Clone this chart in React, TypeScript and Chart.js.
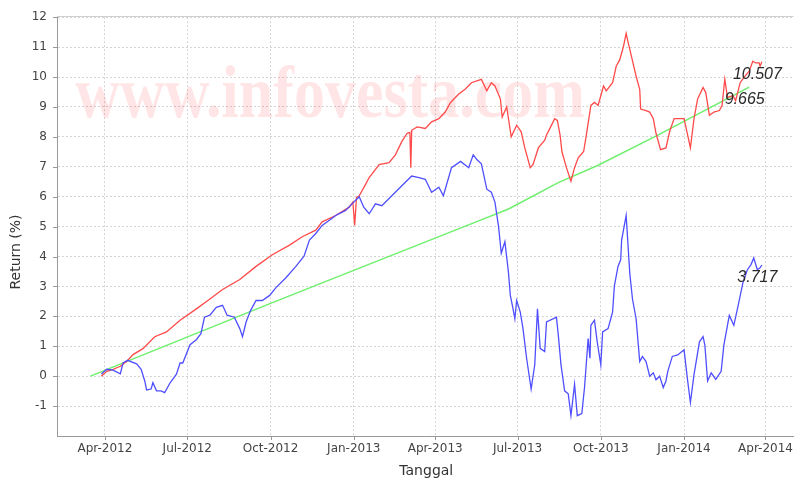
import React, { useEffect, useRef } from "react";
import { Chart, registerables } from "chart.js";

Chart.register(...registerables);

// ---------- data ----------
const redDates = [
  "2012-03-28","2012-04-03","2012-04-10","2012-04-18","2012-04-25","2012-05-02","2012-05-13","2012-05-26","2012-06-08","2012-06-23",
  "2012-07-11","2012-07-26","2012-08-09","2012-08-28","2012-09-15","2012-10-03","2012-10-22","2012-11-05","2012-11-20","2012-11-27",
  "2012-12-12","2012-12-27","2012-12-31","2013-01-02","2013-01-04","2013-01-07","2013-01-14","2013-01-18","2013-01-29","2013-02-09",
  "2013-02-16","2013-02-23","2013-03-01","2013-03-04","2013-03-05","2013-03-06","2013-03-12","2013-03-21","2013-03-28","2013-04-05",
  "2013-04-12","2013-04-18","2013-04-27","2013-05-04","2013-05-11","2013-05-22","2013-05-28","2013-06-02","2013-06-06","2013-06-12",
  "2013-06-14","2013-06-19","2013-06-24","2013-06-30","2013-07-05","2013-07-09","2013-07-15","2013-07-18","2013-07-24","2013-07-31",
  "2013-08-02","2013-08-06","2013-08-11","2013-08-14","2013-08-17","2013-08-19","2013-08-24","2013-08-29","2013-09-02","2013-09-06",
  "2013-09-12","2013-09-15","2013-09-20","2013-09-24","2013-09-28","2013-10-04","2013-10-07","2013-10-14","2013-10-18","2013-10-22",
  "2013-10-26","2013-10-29","2013-10-31","2013-11-03","2013-11-09","2013-11-13","2013-11-14","2013-11-20","2013-11-24","2013-11-28",
  "2013-12-01","2013-12-06","2013-12-12","2013-12-16","2013-12-21","2014-01-01","2014-01-05","2014-01-08","2014-01-12","2014-01-16",
  "2014-01-22","2014-01-25","2014-01-29","2014-02-03","2014-02-09","2014-02-12","2014-02-15","2014-02-18","2014-02-24","2014-02-27",
  "2014-03-04","2014-03-08","2014-03-14","2014-03-18","2014-03-21","2014-03-25","2014-03-26","2014-03-28",
];
const redValues = [
  0.0, 0.16, 0.23, 0.33, 0.49, 0.72, 0.92, 1.32, 1.48, 1.87,
  2.25, 2.58, 2.90, 3.23, 3.67, 4.06, 4.38, 4.66, 4.88, 5.16,
  5.37, 5.65, 5.82, 5.04, 5.98, 6.03, 6.41, 6.64, 7.07, 7.14,
  7.40, 7.84, 8.12, 8.15, 6.97, 8.22, 8.33, 8.28, 8.50, 8.61,
  8.83, 9.15, 9.43, 9.59, 9.81, 9.92, 9.54, 9.81, 9.70, 9.27,
  8.66, 9.0, 8.0, 8.39, 8.17, 7.63, 6.97, 7.07, 7.63, 7.89,
  8.06, 8.3, 8.61, 8.55, 8.06, 7.51, 6.97, 6.52, 6.97, 7.30,
  7.51, 8.06, 9.05, 9.15, 9.05, 9.70, 9.54, 9.81, 10.36, 10.58,
  11.02, 11.46, 11.18, 10.80, 10.03, 9.59, 8.93, 8.88, 8.83, 8.61,
  8.12, 7.57, 7.63, 8.17, 8.61, 8.61, 8.06, 7.63, 8.61, 9.27,
  9.65, 9.48, 8.72, 8.83, 8.88, 9.05, 9.93, 9.32, 9.38, 9.21,
  9.81, 9.98, 10.20, 10.53, 10.47, 10.47, 10.36, 10.507,
];

const blueDates = [
  "2012-03-28","2012-04-03","2012-04-10","2012-04-18","2012-04-21","2012-04-26","2012-05-06","2012-05-11","2012-05-15","2012-05-17",
  "2012-05-22","2012-05-24","2012-05-28","2012-06-02","2012-06-06","2012-06-12","2012-06-19","2012-06-23","2012-06-26","2012-07-04",
  "2012-07-11","2012-07-16","2012-07-20","2012-07-26","2012-08-02","2012-08-09","2012-08-14","2012-08-22","2012-08-28","2012-08-31",
  "2012-09-04","2012-09-09","2012-09-15","2012-09-22","2012-09-30","2012-10-07","2012-10-18","2012-10-29","2012-11-07","2012-11-13",
  "2012-11-20","2012-11-27","2012-12-05","2012-12-12","2012-12-23","2012-12-30","2013-01-07","2013-01-12","2013-01-18","2013-01-25",
  "2013-02-01","2013-02-12","2013-02-27","2013-03-06","2013-03-14","2013-03-21","2013-03-28","2013-04-05","2013-04-10","2013-04-19",
  "2013-04-29","2013-05-08","2013-05-13","2013-05-17","2013-05-22","2013-05-28","2013-06-02","2013-06-06","2013-06-10","2013-06-13",
  "2013-06-17","2013-06-21","2013-06-23","2013-06-26","2013-06-28","2013-06-30","2013-07-04","2013-07-07","2013-07-11","2013-07-16",
  "2013-07-20","2013-07-23","2013-07-26","2013-07-31","2013-08-02","2013-08-13","2013-08-15","2013-08-18","2013-08-22","2013-08-26",
  "2013-08-29","2013-09-02","2013-09-05","2013-09-10","2013-09-13","2013-09-17","2013-09-19","2013-09-20","2013-09-24","2013-09-27",
  "2013-10-01","2013-10-03","2013-10-09","2013-10-14","2013-10-16","2013-10-20","2013-10-23","2013-10-24","2013-10-29","2013-11-02",
  "2013-11-05","2013-11-09","2013-11-13","2013-11-16","2013-11-20","2013-11-24","2013-11-28","2013-12-01","2013-12-05","2013-12-09",
  "2013-12-12","2013-12-14","2013-12-19","2013-12-25","2014-01-01","2014-01-05","2014-01-08","2014-01-12","2014-01-18","2014-01-22",
  "2014-01-24","2014-01-27","2014-01-31","2014-02-05","2014-02-11","2014-02-14","2014-02-20","2014-02-25","2014-03-01","2014-03-07",
  "2014-03-12","2014-03-16","2014-03-19","2014-03-23","2014-03-26","2014-03-28",
];
const blueValues = [
  0.07, 0.23, 0.20, 0.08, 0.44, 0.53, 0.41, 0.23, -0.16, -0.46,
  -0.43, -0.22, -0.49, -0.49, -0.55, -0.22, 0.07, 0.44, 0.44, 1.05,
  1.22, 1.42, 1.97, 2.04, 2.30, 2.37, 2.04, 1.97, 1.59, 1.32,
  1.81, 2.20, 2.53, 2.53, 2.70, 2.96, 3.29, 3.67, 4.01, 4.55,
  4.77, 5.04, 5.21, 5.37, 5.54, 5.76, 6.0, 5.65, 5.43, 5.76,
  5.70, 6.03, 6.48, 6.69, 6.64, 6.58, 6.15, 6.32, 6.03, 6.97,
  7.18, 6.97, 7.40, 7.24, 7.1, 6.25, 6.15, 5.82, 5.0, 4.11,
  4.50, 3.45, 2.70, 2.25, 1.92, 2.53, 2.14, 1.59, 0.60, -0.43,
  0.38, 2.25, 0.93, 0.82, 1.81, 1.97, 1.38, 0.38, -0.49, -0.59,
  -1.32, -0.27, -1.32, -1.25, -0.38, 1.26, 0.60, 1.70, 1.87, 1.15,
  0.38, 1.48, 1.59, 2.14, 3.02, 3.67, 3.89, 4.55, 5.37, 3.45,
  2.58, 1.92, 0.49, 0.66, 0.49, 0.0, 0.11, -0.12, 0.0, -0.38,
  -0.16, 0.16, 0.66, 0.71, 0.88, -0.16, -0.88, 0.05, 1.15, 1.32,
  1.04, -0.16, 0.11, -0.11, 0.16, 1.04, 2.03, 1.70, 2.25, 3.12,
  3.56, 3.73, 3.95, 3.56, 3.62, 3.717,
];

const greenDates = [
  "2012-03-16","2012-09-29","2012-11-27","2013-05-19","2013-06-21","2013-08-15","2013-09-28","2013-12-03","2014-03-14",
];
const greenValues = [0.0, 2.41, 3.12, 5.19, 5.59, 6.47, 7.05, 8.06, 9.665];

const tickDates = [
  "2012-04-01","2012-07-01","2012-10-01","2013-01-01","2013-04-01","2013-07-01","2013-10-01","2014-01-01","2014-04-01",
];
const tickLabels = [
  "Apr-2012","Jul-2012","Oct-2012","Jan-2013","Apr-2013","Jul-2013","Oct-2013","Jan-2014","Apr-2014",
];
const xRange = ["2012-02-08", "2014-05-02"];
const yRange = [-2, 12];
const xTitle = "Tanggal";
const yTitle = "Return (%)";
const watermark = "www.infovesta.com";

// ---------- helpers ----------
const toDay = (s: string) => {
  const [y, m, d] = s.split("-").map(Number);
  return Date.UTC(y, m - 1, d) / 86400000;
};
const pairs = (dates: string[], values: number[]) =>
  dates.map((d, i) => ({ x: toDay(d), y: values[i] }));

const TICK_FONT = "'DejaVu Sans', sans-serif";

const overlayPlugin = {
  id: "overlay",
  beforeDatasetsDraw(chart: any) {
    const { ctx, chartArea } = chart;
    ctx.save();
    ctx.beginPath();
    ctx.rect(chartArea.left, chartArea.top, chartArea.right - chartArea.left, chartArea.bottom - chartArea.top);
    ctx.clip();
    ctx.font = "bold 62px 'Liberation Serif', serif";
    ctx.fillStyle = "rgba(255, 0, 0, 0.1)";
    ctx.textAlign = "center";
    ctx.textBaseline = "alphabetic";
    ctx.translate(chartArea.left + 273, chartArea.top + 100);
    ctx.scale(1, 1.2);
    ctx.fillText(watermark, 0, 0);
    ctx.restore();
  },
  afterDatasetsDraw(chart: any) {
    const { ctx } = chart;
    ctx.save();
    ctx.font = "italic 16px 'Liberation Sans', Arial, sans-serif";
    ctx.fillStyle = "#2a2a2a";
    ctx.textAlign = "center";
    ctx.textBaseline = "alphabetic";
    chart.data.datasets.forEach((ds: any, i: number) => {
      const meta = chart.getDatasetMeta(i);
      const last = meta.data[meta.data.length - 1];
      const v = ds.data[ds.data.length - 1].y;
      ctx.fillText(String(v), last.x - 4.5, last.y + 17);
    });
    ctx.restore();
  },
  afterDraw(chart: any) {
    const { ctx, chartArea, scales } = chart;
    const xs = scales.x;
    const ys = scales.y;
    ctx.save();
    // top border
    ctx.strokeStyle = "#cfcfcf";
    ctx.lineWidth = 1;
    ctx.beginPath();
    ctx.moveTo(chartArea.left, Math.round(chartArea.top) - 0.5);
    ctx.lineTo(chartArea.right, Math.round(chartArea.top) - 0.5);
    ctx.stroke();
    // tick marks
    ctx.strokeStyle = "#999";
    ctx.beginPath();
    xs.ticks.forEach((t: any) => {
      const px = Math.round(xs.getPixelForValue(t.value)) + 0.5;
      ctx.moveTo(px, chartArea.bottom);
      ctx.lineTo(px, chartArea.bottom + 4);
    });
    ys.ticks.forEach((t: any) => {
      if (t.value <= yRange[0]) return;
      const py = Math.round(ys.getPixelForValue(t.value)) + 0.5;
      ctx.moveTo(chartArea.left - 4, py);
      ctx.lineTo(chartArea.left, py);
    });
    ctx.stroke();
    // axis titles
    ctx.fillStyle = "#333";
    ctx.font = "14px 'DejaVu Sans', sans-serif";
    ctx.textAlign = "center";
    ctx.textBaseline = "alphabetic";
    ctx.fillText(xTitle, (chartArea.left + chartArea.right) / 2 + 1, 475);
    ctx.translate(20, 252);
    ctx.rotate(-Math.PI / 2);
    ctx.fillText(yTitle, 0, 0);
    ctx.restore();
  },
};

export default function App() {
  const ref = useRef<HTMLCanvasElement | null>(null);
  useEffect(() => {
    if (!ref.current) return;
    const chart = new Chart(ref.current, {
      type: "line",
      data: {
        datasets: [
          {
            label: "red",
            data: pairs(redDates, redValues),
            borderColor: "#ff4a4a",
            borderWidth: 1.3,
            pointRadius: 0,
            tension: 0,
            order: 1,
          },
          {
            label: "green",
            data: pairs(greenDates, greenValues),
            borderColor: "#6ef06e",
            borderWidth: 1.5,
            pointRadius: 0,
            tension: 0,
            order: 2,
          },
          {
            label: "blue",
            data: pairs(blueDates, blueValues),
            borderColor: "#4f4fff",
            borderWidth: 1.3,
            pointRadius: 0,
            tension: 0,
            order: 0,
          },
        ],
      },
      options: {
        animation: false,
        responsive: false,
        devicePixelRatio: 1,
        layout: { padding: { left: 0, top: 10, right: 2, bottom: 0 } },
        plugins: {
          legend: { display: false },
          tooltip: { enabled: false },
        },
        scales: {
          x: {
            type: "linear",
            min: toDay(xRange[0]),
            max: toDay(xRange[1]),
            afterBuildTicks: (scale: any) => {
              scale.ticks = tickDates.map((d) => ({ value: toDay(d) }));
            },
            afterFit: (scale: any) => {
              scale.height = 44;
            },
            ticks: {
              autoSkip: false,
              maxRotation: 0,
              minRotation: 0,
              padding: 6,
              color: "#444",
              font: { family: TICK_FONT, size: 12 },
              callback: (_v: any, i: number) => tickLabels[i],
            },
            grid: { color: "#d4d4d4", drawTicks: false },
            border: { color: "#999", width: 1, dash: [2, 2] },
          },
          y: {
            type: "linear",
            min: yRange[0],
            max: yRange[1],
            afterFit: (scale: any) => {
              scale.width = 57;
            },
            ticks: {
              stepSize: 1,
              padding: 10,
              color: "#444",
              font: { family: TICK_FONT, size: 12 },
              callback: (v: any) => (v <= yRange[0] ? "" : String(v)),
            },
            grid: { color: "#d4d4d4", drawTicks: false },
            border: { color: "#999", width: 1, dash: [2, 2] },
          },
        },
      },
      plugins: [overlayPlugin],
    } as any);
    return () => chart.destroy();
  }, []);
  return (
    <div style={{ position: "absolute", left: 0, top: 0, width: 799, height: 480, background: "#fff" }}>
      <canvas ref={ref} width={799} height={480} style={{ width: 799, height: 480, display: "block" }} />
    </div>
  );
}
